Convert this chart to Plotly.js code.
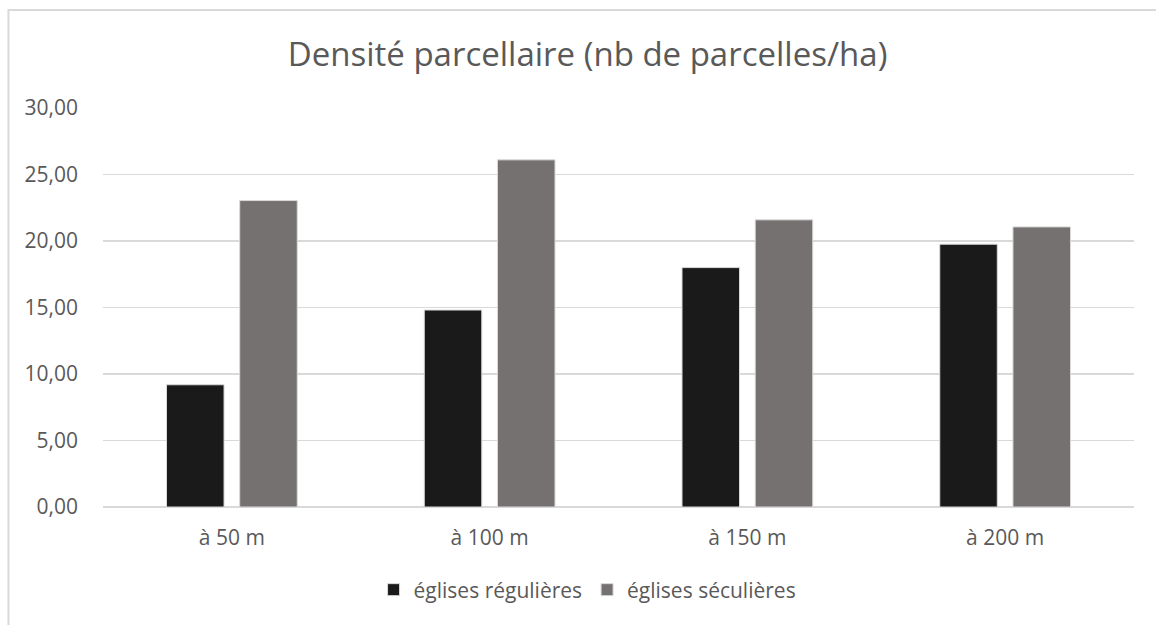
<!DOCTYPE html>
<html>
<head>
<meta charset="utf-8">
<script src="https://cdn.plot.ly/plotly-3.0.1.min.js"></script>
<style>html,body{margin:0;padding:0;background:#fff;}#chart{width:1156px;height:625px;}</style>
</head>
<body>
<div id="chart"></div>
<script>
const categories = ["à 50 m", "à 100 m", "à 150 m", "à 200 m"];
const seriesNames = ["églises régulières", "églises séculières"];
const regulieres = [9.19, 14.81, 18.00, 19.76];
const seculieres = [23.04, 26.10, 21.59, 21.06];
const yTicks = [0, 5, 10, 15, 20, 25, 30];

const font = "'Open Sans', 'Noto Sans', sans-serif";
const textColor = "#595959";
const gridColor = "#d9d9d9";

const traces = [
  {type: "bar", name: seriesNames[0], x: categories, y: regulieres,
   marker: {color: "#1a1a1a", line: {color: "#d9d9d9", width: 1}}, hoverinfo: "skip"},
  {type: "bar", name: seriesNames[1], x: categories, y: seculieres,
   marker: {color: "#757170", line: {color: "#d9d9d9", width: 1}}, hoverinfo: "skip"}
];

const layout = {
  width: 1156, height: 625,
  margin: {l: 103, r: 22, t: 108, b: 118},
  paper_bgcolor: "#ffffff", plot_bgcolor: "#ffffff",
  separators: ",.",
  font: {family: font, color: textColor, size: 21},
  title: {text: "Densité parcellaire (nb de parcelles/ha)", font: {family: font, size: 33, color: textColor},
          x: 0.470, xref: "paper", xanchor: "center", y: 1.118, yref: "paper", yanchor: "middle"},
  barmode: "group", bargap: 0.432, bargroupgap: 0.214,
  xaxis: {type: "category", showgrid: false, zeroline: false, showline: false, ticks: "",
          tickfont: {size: 21, color: textColor}, ticklabelstandoff: 16, fixedrange: true},
  yaxis: {range: [0, 30], tickvals: yTicks, tickformat: ".2f", showgrid: true, gridcolor: gridColor, gridwidth: 1.3,
          zeroline: true, zerolinecolor: gridColor, zerolinewidth: 1.3, showline: false, ticks: "",
          tickfont: {size: 21, color: textColor}, ticklabelstandoff: 24, fixedrange: true},
  showlegend: true,
  legend: {orientation: "h", x: 0.47, xanchor: "center", y: -0.208, yanchor: "middle",
           font: {size: 21, color: textColor}, itemwidth: 30, tracegroupgap: 0},
  shapes: [
    {type: "path", xref: "paper", yref: "paper",
     path: "M -0.0917,-0.40 L -0.0917,1.2456 L 1.05,1.2456",
     line: {color: "#d9d9d9", width: 2}}
  ]
};

Plotly.newPlot("chart", traces, layout, {displayModeBar: false, staticPlot: true});
</script>
</body>
</html>
